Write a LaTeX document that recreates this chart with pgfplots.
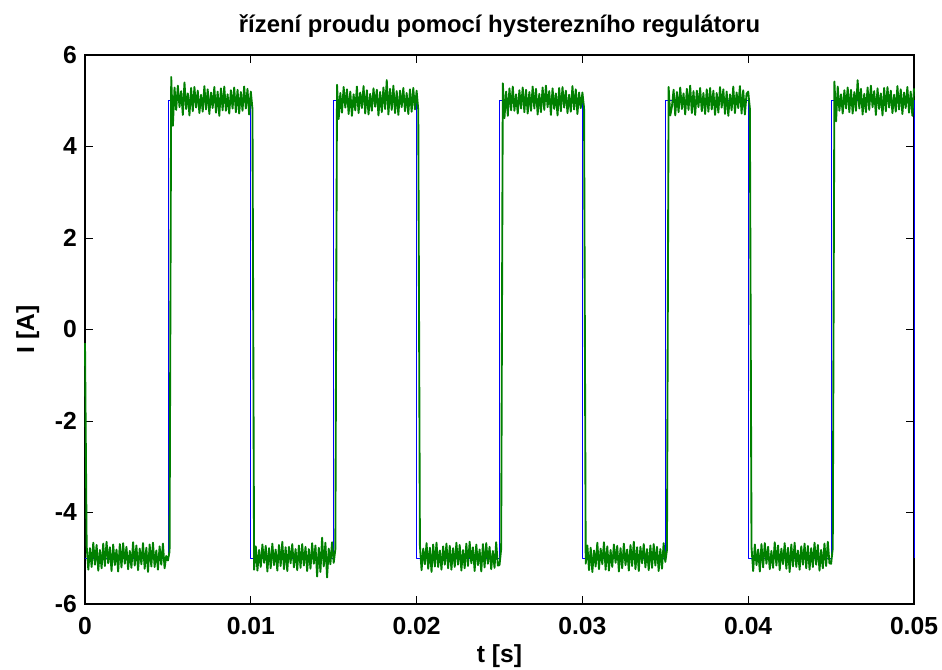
\documentclass[border=0pt]{standalone}
\usepackage{fontspec}
\setmainfont{Liberation Sans}
\usepackage{pgfplots}
\pgfplotsset{compat=1.18}
\usepackage{pgfplotstable}
\definecolor{mgreen}{rgb}{0,0.5,0}
\definecolor{mblue}{rgb}{0,0,1}

\pgfplotstableread{
t I
0.0000 -0.30
0.0001 -4.73
0.0002 -5.25
0.0003 -4.78
0.0004 -5.19
0.0005 -4.66
0.0006 -5.14
0.0007 -4.71
0.0008 -5.27
0.0009 -4.82
0.0010 -5.22
0.0011 -4.68
0.0012 -5.17
0.0013 -4.64
0.0014 -5.11
0.0015 -4.76
0.0016 -5.28
0.0017 -4.70
0.0018 -5.15
0.0019 -4.81
0.0020 -5.29
0.0021 -4.69
0.0022 -5.20
0.0023 -4.67
0.0024 -5.12
0.0025 -4.75
0.0026 -5.24
0.0027 -4.84
0.0028 -5.21
0.0029 -4.65
0.0030 -5.16
0.0031 -4.72
0.0032 -5.26
0.0033 -4.79
0.0034 -5.13
0.0035 -4.67
0.0036 -5.23
0.0037 -4.77
0.0038 -5.30
0.0039 -4.70
0.0040 -5.18
0.0041 -4.66
0.0042 -5.19
0.0043 -4.83
0.0044 -5.25
0.0045 -4.74
0.0046 -5.14
0.0047 -4.68
0.0048 -5.22
0.0049 -4.95
0.0050 -5.05
0.0051 -4.85
0.0052 5.52
0.0053 4.45
0.0054 5.29
0.0055 4.80
0.0056 5.33
0.0057 4.86
0.0058 5.21
0.0059 4.69
0.0060 5.40
0.0061 4.82
0.0062 5.16
0.0063 4.68
0.0064 5.28
0.0065 4.77
0.0066 5.30
0.0067 4.85
0.0068 5.22
0.0069 4.73
0.0070 5.13
0.0071 4.76
0.0072 5.32
0.0073 4.81
0.0074 5.25
0.0075 4.71
0.0076 5.18
0.0077 4.84
0.0078 5.30
0.0079 4.74
0.0080 5.20
0.0081 4.67
0.0082 5.27
0.0083 4.79
0.0084 5.31
0.0085 4.78
0.0086 5.14
0.0087 4.72
0.0088 5.23
0.0089 4.83
0.0090 5.29
0.0091 4.75
0.0092 5.24
0.0093 4.72
0.0094 5.19
0.0095 4.78
0.0096 5.31
0.0097 4.83
0.0098 5.26
0.0099 4.70
0.0100 5.20
0.0101 4.82
0.0102 -5.25
0.0103 -4.74
0.0104 -5.27
0.0105 -4.82
0.0106 -5.19
0.0107 -4.70
0.0108 -5.10
0.0109 -4.73
0.0110 -5.29
0.0111 -4.78
0.0112 -5.22
0.0113 -4.68
0.0114 -5.15
0.0115 -4.81
0.0116 -5.27
0.0117 -4.71
0.0118 -5.17
0.0119 -4.64
0.0120 -5.24
0.0121 -4.76
0.0122 -5.28
0.0123 -4.75
0.0124 -5.11
0.0125 -4.69
0.0126 -5.20
0.0127 -4.80
0.0128 -5.26
0.0129 -4.72
0.0130 -5.21
0.0131 -4.69
0.0132 -5.16
0.0133 -4.75
0.0134 -5.28
0.0135 -4.80
0.0136 -5.23
0.0137 -4.67
0.0138 -5.12
0.0139 -4.72
0.0140 -5.40
0.0141 -4.77
0.0142 -5.30
0.0143 -4.55
0.0144 -5.18
0.0145 -4.66
0.0146 -5.42
0.0147 -4.79
0.0148 -5.13
0.0149 -4.65
0.0150 -5.10
0.0151 -4.80
0.0152 5.35
0.0153 4.60
0.0154 5.17
0.0155 4.74
0.0156 5.30
0.0157 4.85
0.0158 5.25
0.0159 4.71
0.0160 5.20
0.0161 4.67
0.0162 5.14
0.0163 4.79
0.0164 5.31
0.0165 4.73
0.0166 5.18
0.0167 4.84
0.0168 5.32
0.0169 4.72
0.0170 5.23
0.0171 4.70
0.0172 5.15
0.0173 4.78
0.0174 5.27
0.0175 4.87
0.0176 5.24
0.0177 4.68
0.0178 5.19
0.0179 4.75
0.0180 5.29
0.0181 4.82
0.0182 5.45
0.0183 4.70
0.0184 5.26
0.0185 4.80
0.0186 5.33
0.0187 4.73
0.0188 5.21
0.0189 4.69
0.0190 5.22
0.0191 4.86
0.0192 5.28
0.0193 4.77
0.0194 5.17
0.0195 4.71
0.0196 5.25
0.0197 4.76
0.0198 5.28
0.0199 4.81
0.0200 5.22
0.0201 4.80
0.0202 -4.72
0.0203 -5.26
0.0204 -4.79
0.0205 -5.13
0.0206 -4.67
0.0207 -5.23
0.0208 -4.77
0.0209 -5.30
0.0210 -4.70
0.0211 -5.18
0.0212 -4.66
0.0213 -5.19
0.0214 -4.83
0.0215 -5.25
0.0216 -4.74
0.0217 -5.14
0.0218 -4.68
0.0219 -5.22
0.0220 -4.73
0.0221 -5.25
0.0222 -4.78
0.0223 -5.19
0.0224 -4.66
0.0225 -5.14
0.0226 -4.71
0.0227 -5.27
0.0228 -4.82
0.0229 -5.22
0.0230 -4.68
0.0231 -5.17
0.0232 -4.64
0.0233 -5.11
0.0234 -4.76
0.0235 -5.28
0.0236 -4.70
0.0237 -5.15
0.0238 -4.81
0.0239 -5.29
0.0240 -4.69
0.0241 -5.20
0.0242 -4.67
0.0243 -5.12
0.0244 -4.75
0.0245 -5.24
0.0246 -4.84
0.0247 -5.21
0.0248 -4.65
0.0249 -5.16
0.0250 -5.15
0.0251 -4.80
0.0252 5.38
0.0253 4.62
0.0254 5.20
0.0255 4.67
0.0256 5.27
0.0257 4.79
0.0258 5.31
0.0259 4.78
0.0260 5.14
0.0261 4.72
0.0262 5.23
0.0263 4.83
0.0264 5.29
0.0265 4.75
0.0266 5.24
0.0267 4.72
0.0268 5.19
0.0269 4.78
0.0270 5.31
0.0271 4.83
0.0272 5.26
0.0273 4.70
0.0274 5.15
0.0275 4.75
0.0276 5.29
0.0277 4.80
0.0278 5.33
0.0279 4.86
0.0280 5.21
0.0281 4.69
0.0282 5.27
0.0283 4.82
0.0284 5.16
0.0285 4.68
0.0286 5.28
0.0287 4.77
0.0288 5.30
0.0289 4.85
0.0290 5.22
0.0291 4.73
0.0292 5.13
0.0293 4.76
0.0294 5.32
0.0295 4.81
0.0296 5.25
0.0297 4.71
0.0298 5.18
0.0299 4.84
0.0300 5.18
0.0301 4.84
0.0302 -5.12
0.0303 -4.72
0.0304 -5.26
0.0305 -4.77
0.0306 -5.30
0.0307 -4.83
0.0308 -5.18
0.0309 -4.66
0.0310 -5.24
0.0311 -4.79
0.0312 -5.13
0.0313 -4.65
0.0314 -5.25
0.0315 -4.74
0.0316 -5.27
0.0317 -4.82
0.0318 -5.19
0.0319 -4.70
0.0320 -5.10
0.0321 -4.73
0.0322 -5.29
0.0323 -4.78
0.0324 -5.22
0.0325 -4.68
0.0326 -5.15
0.0327 -4.81
0.0328 -5.27
0.0329 -4.71
0.0330 -5.17
0.0331 -4.64
0.0332 -5.24
0.0333 -4.76
0.0334 -5.28
0.0335 -4.75
0.0336 -5.11
0.0337 -4.69
0.0338 -5.20
0.0339 -4.80
0.0340 -5.26
0.0341 -4.72
0.0342 -5.21
0.0343 -4.69
0.0344 -5.16
0.0345 -4.75
0.0346 -5.28
0.0347 -4.80
0.0348 -5.23
0.0349 -4.67
0.0350 -5.08
0.0351 -4.82
0.0352 5.30
0.0353 4.68
0.0354 4.87
0.0355 5.24
0.0356 4.68
0.0357 5.19
0.0358 4.75
0.0359 5.29
0.0360 4.82
0.0361 5.16
0.0362 4.70
0.0363 5.26
0.0364 4.80
0.0365 5.33
0.0366 4.73
0.0367 5.21
0.0368 4.69
0.0369 5.22
0.0370 4.86
0.0371 5.28
0.0372 4.77
0.0373 5.17
0.0374 4.71
0.0375 5.25
0.0376 4.76
0.0377 5.28
0.0378 4.81
0.0379 5.22
0.0380 4.69
0.0381 5.17
0.0382 4.74
0.0383 5.30
0.0384 4.85
0.0385 5.25
0.0386 4.71
0.0387 5.20
0.0388 4.67
0.0389 5.14
0.0390 4.79
0.0391 5.31
0.0392 4.73
0.0393 5.18
0.0394 4.84
0.0395 5.32
0.0396 4.72
0.0397 5.23
0.0398 4.70
0.0399 5.15
0.0400 5.20
0.0401 4.83
0.0402 -4.76
0.0403 -5.28
0.0404 -4.70
0.0405 -5.15
0.0406 -4.81
0.0407 -5.29
0.0408 -4.69
0.0409 -5.20
0.0410 -4.67
0.0411 -5.12
0.0412 -4.75
0.0413 -5.24
0.0414 -4.84
0.0415 -5.21
0.0416 -4.65
0.0417 -5.16
0.0418 -4.72
0.0419 -5.26
0.0420 -4.79
0.0421 -5.13
0.0422 -4.67
0.0423 -5.23
0.0424 -4.77
0.0425 -5.30
0.0426 -4.70
0.0427 -5.18
0.0428 -4.66
0.0429 -5.19
0.0430 -4.83
0.0431 -5.25
0.0432 -4.74
0.0433 -5.14
0.0434 -4.68
0.0435 -5.22
0.0436 -4.73
0.0437 -5.25
0.0438 -4.78
0.0439 -5.19
0.0440 -4.66
0.0441 -5.14
0.0442 -4.71
0.0443 -5.27
0.0444 -4.82
0.0445 -5.22
0.0446 -4.68
0.0447 -5.17
0.0448 -4.64
0.0449 -5.11
0.0450 -5.12
0.0451 -4.78
0.0452 5.42
0.0453 4.55
0.0454 5.31
0.0455 4.78
0.0456 5.14
0.0457 4.72
0.0458 5.23
0.0459 4.83
0.0460 5.29
0.0461 4.75
0.0462 5.24
0.0463 4.72
0.0464 5.19
0.0465 4.78
0.0466 5.45
0.0467 4.83
0.0468 5.26
0.0469 4.70
0.0470 5.15
0.0471 4.75
0.0472 5.29
0.0473 4.80
0.0474 5.33
0.0475 4.86
0.0476 5.21
0.0477 4.69
0.0478 5.27
0.0479 4.82
0.0480 5.16
0.0481 4.68
0.0482 5.28
0.0483 4.77
0.0484 5.30
0.0485 4.85
0.0486 5.22
0.0487 4.73
0.0488 5.13
0.0489 4.76
0.0490 5.32
0.0491 4.81
0.0492 5.25
0.0493 4.71
0.0494 5.18
0.0495 4.84
0.0496 5.30
0.0497 4.74
0.0498 5.20
0.0499 4.67
0.0500 5.27
}\greendata

\begin{document}
\begin{tikzpicture}
\begin{axis}[
  scale only axis,
  width=621.75pt, height=411.75pt,
  xmin=0, xmax=0.05, ymin=-6, ymax=6,
  clip=false,
  xtick={0,0.01,0.02,0.03,0.04,0.05},
  xticklabels={0,0.01,0.02,0.03,0.04,0.05},
  ytick={-6,-4,-2,0,2,4,6},
  yticklabels={-6,-4,-2,0,2,4,6},
  tick align=inside,
  major tick length=6pt,
  tick style={black, line width=0.6pt},
  axis line style={black, line width=0.9pt},
  ticklabel style={font=\fontsize{18.5}{19}\selectfont\bfseries, inner sep=0pt},
  xticklabel style={anchor=base, yshift=-23.25pt},
  yticklabel style={anchor=east, xshift=-6pt},
  title={řízení proudu pomocí hysterezního regulátoru},
  title style={font=\fontsize{17.9}{18}\selectfont\bfseries, at={(axis description cs:0.5,1.0273)}, anchor=base},
  xlabel={t [s]},
  xlabel style={font=\fontsize{18.5}{19}\selectfont\bfseries, at={(axis description cs:0.5,-0.1065)}, anchor=base},
  ylabel={I [A]},
  ylabel style={font=\fontsize{18.5}{19}\selectfont\bfseries, at={(axis description cs:-0.0615,0.5)}, anchor=base, rotate=0},
]
\addplot[mblue, line width=0.6pt, line join=round] coordinates {
(0,-5)(0.005,-5)(0.005,5)(0.01,5)(0.01,-5)(0.015,-5)(0.015,5)(0.02,5)(0.02,-5)(0.025,-5)(0.025,5)(0.03,5)(0.03,-5)(0.035,-5)(0.035,5)(0.04,5)(0.04,-5)(0.045,-5)(0.045,5)(0.05,5)(0.05,-5)};
\addplot[mgreen, line width=1.4pt, line join=round] table[x=t, y=I] {\greendata};
\end{axis}
\pgfresetboundingbox
\path[use as bounding box] ([shift={(-63.75pt,-49.5pt)}]current axis.south west) rectangle ([shift={(21pt,41.25pt)}]current axis.north east);
\end{tikzpicture}
\end{document}
